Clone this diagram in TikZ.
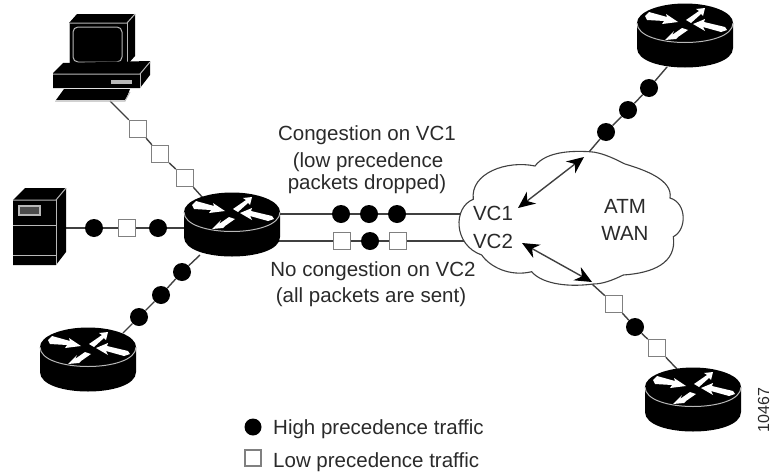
\documentclass[tikz,border=0pt]{standalone}
\usepackage{fontspec}
\setmainfont{Liberation Sans}
\usetikzlibrary{arrows.meta,backgrounds}
\definecolor{ink}{HTML}{2A2A2A}
\definecolor{wire}{HTML}{404040}
\definecolor{boxedge}{HTML}{808080}
\definecolor{facet}{HTML}{B8B8B8}
\tikzset{
  x=1pt,y=-1pt,
  hi/.style={circle,fill=black,inner sep=0pt,minimum size=18pt},
  lo/.style={rectangle,draw=boxedge,line width=1.5pt,fill=white,inner sep=0pt,minimum size=17pt},
  wirepath/.style={draw=wire,line width=1.4pt},
  lbl/.style={anchor=base,inner sep=0pt,text=ink,font=\fontsize{20.5}{24}\selectfont},
  lbll/.style={lbl,anchor=base west},
  dbl/.style={draw=wire,line width=1.4pt,{Stealth[length=17pt,width=15pt,color=black]}-{Stealth[length=17pt,width=15pt,color=black]}},
  facetline/.style={draw=facet,line width=1pt},
  router/.pic={
    \fill[black] (-48,0) -- (-48,25) .. controls (-48,51) and (48,51) .. (48,25) -- (48,0) -- cycle;
    \fill[black] (0,0) ellipse [x radius=48pt,y radius=19.5pt];
    \draw[draw=facet,line width=1pt] (-48,0) .. controls (-48,26) and (48,26) .. (48,0);
    \fill[white] (-40,-7) -- (-36,-11) -- (-18,-6) -- (-19,-9) -- (-7,-1) -- (-23,1) -- (-21,-2) -- (-38,-3) -- cycle;
    \fill[white] (1,-3) -- (14,-12) -- (11,-14) -- (20,-15) -- (18,-7) -- (16,-9) -- (6,0) -- cycle;
    \fill[white] (-3,5) -- (-13,12) -- (-11,8) -- (-20,17) -- (-9,16) -- (-7,14) -- (3,7) -- cycle;
    \fill[white] (8,1) -- (20,-4) -- (19,-1) -- (40,4) -- (42,7) -- (36,9) -- (18,4) -- (20,8) -- cycle;
  },
}
\begin{document}
\begin{tikzpicture}
\useasboundingbox (0,0) rectangle (770,471);

% cloud
\draw[draw=wire,line width=1.1pt,fill=white]
  (589.3,151.7) .. controls (603,152) and (620,161.7) .. (625,164)
  .. controls (645,170) and (673,180) .. (670,198)
  .. controls (687,203) and (687,230) .. (673.3,236.7)
  .. controls (677,263) and (653,273) .. (623.3,275)
  .. controls (613,280) and (603,284) .. (593.3,284)
  .. controls (563,288) and (540,282) .. (531.7,271.7)
  .. controls (510,277) and (490,267) .. (481.7,255)
  .. controls (453,245) and (453,207) .. (473.3,199.3)
  .. controls (470,173) and (507,160) .. (535,166)
  .. controls (547,150) and (577,151) .. (589.3,151.7);

% anchors for connector ends
\coordinate (pcport) at (110,101);
\coordinate (mainnw) at (203,198);
\coordinate (srvport) at (66,228);
\coordinate (mainw) at (186,228);
\coordinate (mainsw) at (200,255);
\coordinate (blne) at (123,333);
\coordinate (maine1) at (279,214);
\coordinate (maine2) at (279,241);
\coordinate (cloudw1) at (463,214);
\coordinate (cloudw2) at (465,241);
\coordinate (cloudtop) at (589,152);
\coordinate (trsw) at (667,67);
\coordinate (cloudbot) at (592,284);
\coordinate (brnw) at (677,369);
\coordinate (vc1tip) at (518,208);
\coordinate (vc2tip) at (522,243);
\coordinate (toptip) at (584,157);
\coordinate (bottip) at (592,282);

% packets
\node[lo] (a1) at (138,129) {};
\node[lo] (a2) at (160,154) {};
\node[lo] (a3) at (185,178) {};
\node[hi] (b1) at (94,228) {};
\node[lo] (b2) at (127,228) {};
\node[hi] (b3) at (158,228) {};
\node[hi] (c1) at (182,272) {};
\node[hi] (c2) at (161,295) {};
\node[hi] (c3) at (139,317) {};
\node[hi] (d1) at (341,214) {};
\node[hi] (d2) at (369,214) {};
\node[hi] (d3) at (397,214) {};
\node[lo] (e1) at (342,241) {};
\node[hi] (e2) at (370,241) {};
\node[lo] (e3) at (398,241) {};
\node[hi] (f1) at (606,132) {};
\node[hi] (f2) at (628,110) {};
\node[hi] (f3) at (649,88) {};
\node[lo] (g1) at (614,304) {};
\node[hi] (g2) at (635,327) {};
\node[lo] (g3) at (657,348) {};

\begin{scope}[on background layer]
\draw[wirepath] (pcport) -- (a1) -- (a2) -- (a3) -- (mainnw);
\draw[wirepath] (srvport) -- (b1) -- (b2) -- (b3) -- (mainw);
\draw[wirepath] (mainsw) -- (c1) -- (c2) -- (c3) -- (blne);
\draw[wirepath] (maine1) -- (d1) -- (d2) -- (d3) -- (cloudw1);
\draw[wirepath] (maine2) -- (e1) -- (e2) -- (e3) -- (cloudw2);
\draw[wirepath] (cloudtop) -- (f1) -- (f2) -- (f3) -- (trsw);
\draw[wirepath] (cloudbot) -- (g1) -- (g2) -- (g3) -- (brnw);
\end{scope}

% double arrows in the cloud
\draw[dbl] (vc1tip) -- (toptip);
\draw[dbl] (vc2tip) -- (bottip);

% routers
\pic at (232,212) {router};
\pic at (88,347) {router};
\pic at (685,23) {router};
\pic at (693,387) {router};

% workstation
\fill[black] (69,23) -- (77,14) -- (135,14) -- (135,56) -- (127,65) -- (69,65) -- cycle;
\draw[facetline] (69,23) -- (127,23) -- (135,14);
\draw[facetline] (127,23) -- (127,65);
\draw[facetline] (69,23) -- (69,65);
\draw[facetline,rounded corners=5pt] (73,27) rectangle (122,62);
\fill[black] (53,73) -- (63,63) -- (150,61) -- (150,75) -- (140,88) -- (53,88) -- cycle;
\draw[facetline] (53,74) -- (140,74) -- (150,62);
\draw[facetline] (140,74) -- (140,88);
\fill[facet] (111,80) rectangle (132,84);
\fill[black] (56,100) -- (64,89) -- (130,89) -- (127,97) -- (125,100) -- cycle;
\draw[facetline] (55,101) -- (125,101) -- (130,92);

% server
\fill[black] (13,200) -- (25,188) -- (66,188) -- (66,252) -- (56,265) -- (13,265) -- cycle;
\draw[facetline] (13,200) -- (56,200) -- (66,188);
\draw[facetline] (56,200) -- (56,265);
\draw[facetline] (13,225) -- (56,225);
\draw[facetline] (13,255) -- (56,255);
\draw[draw=facet,line width=1.2pt,fill=black!70] (19,206) rectangle (40,215);

% labels
\node[lbl] (t1) at (367,140) {Congestion on VC1};
\node[lbl] (t2) at (368,167) {(low precedence};
\node[lbl] (t3) at (367,189) {packets dropped)};
\node[lbl] (t4) at (373,276) {No congestion on VC2};
\node[lbl] (t5) at (371,302) {(all packets are sent)};
\node[lbl] (vc1) at (493,220) {VC1};
\node[lbl] (vc2) at (493,248) {VC2};
\node[lbl] (atm) at (625,213) {ATM};
\node[lbl] (wan) at (625,240) {WAN};

% legend
\node[hi,minimum size=17pt] (lg1) at (253,427) {};
\node[lo,minimum size=16pt] (lg2) at (253,458) {};
\node[lbll] (lt1) at (273,434) {High precedence traffic};
\node[lbll] (lt2) at (273,467) {Low precedence traffic};

% figure number
\node[rotate=90,anchor=base,inner sep=0pt,text=ink,font=\fontsize{16}{18}\selectfont] (fig) at (769,410) {10467};
\end{tikzpicture}
\end{document}
